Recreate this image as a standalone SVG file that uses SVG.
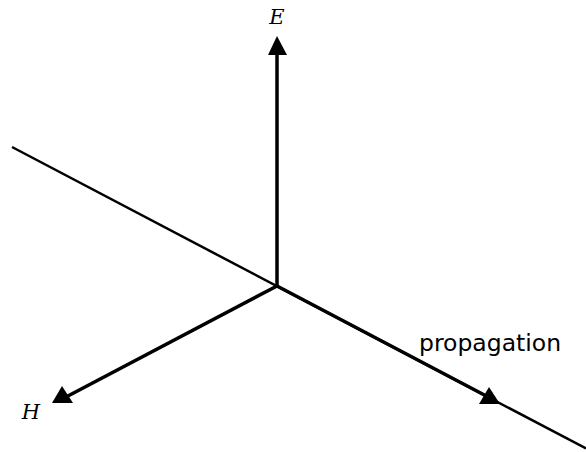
<svg xmlns="http://www.w3.org/2000/svg" width="586" height="452" viewBox="0 0 586 452">
<style>
.thin{stroke:#000;stroke-width:2.5;fill:none}
.thick{stroke:#000;stroke-width:3.5;fill:none}
.head{fill:#000;stroke:none}
.lbl{font-family:"DejaVu Serif","Liberation Serif",serif;font-style:italic;font-size:21px;fill:#000}
.sans{font-family:"DejaVu Sans",sans-serif;font-size:23.5px;fill:#000}
</style>
<rect width="586" height="452" fill="#fff"/>
<g id="connectors">
<line class="thin" x1="12" y1="147" x2="586" y2="448.5"/>
<line class="thick" x1="277" y1="286" x2="277" y2="52"/>
<line class="thick" x1="277" y1="286" x2="66" y2="397"/>
<line class="thick" x1="277" y1="286" x2="492" y2="399"/>
<polygon class="head" points="277,36 268,55 287,55"/>
<polygon class="head" points="62,386 52,403 73,403"/>
<polygon class="head" points="489,387 479,404 500,404"/>
</g>
<g id="E"><text class="lbl" x="277" y="24" text-anchor="middle">E</text></g>
<g id="H"><text class="lbl" x="31" y="419" text-anchor="middle">H</text></g>
<g id="propagation"><text class="sans" x="419" y="351">propagation</text></g>
</svg>
